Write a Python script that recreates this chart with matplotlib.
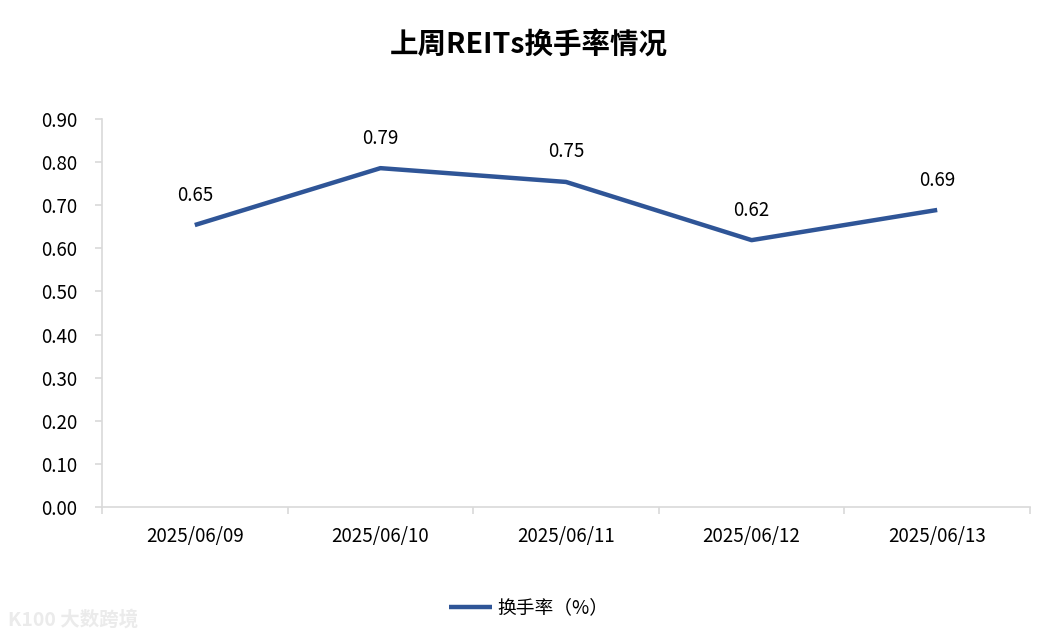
import numpy as np
import matplotlib
matplotlib.use("Agg")
import matplotlib.pyplot as plt

plt.rcParams['font.family'] = ['Noto Sans CJK SC', 'DejaVu Sans']

# ---------------- data ----------------
dates = ["2025/06/09", "2025/06/10", "2025/06/11", "2025/06/12", "2025/06/13"]
turnover = [0.654, 0.786, 0.754, 0.619, 0.689]
y_ticks = np.arange(0, 0.91, 0.1)

line_color = "#2F5597"
axis_color = "#D9D9D9"

fig = plt.figure(figsize=(10.57, 6.4), dpi=100)
ax = fig.add_axes([102 / 1057, 1 - 507 / 640, 928 / 1057, 388 / 640])

x = np.arange(len(dates))
ax.plot(x, turnover, color=line_color, linewidth=3.2, solid_capstyle='butt',
        solid_joinstyle='round', label="换手率（%）")

# data labels
for xi, v in zip(x, turnover):
    ax.annotate(f"{v:.2f}", (xi, v), xytext=(0, 14), textcoords='offset points',
                ha='center', va='bottom', fontsize=13.5, color='black')

ax.set_xlim(-0.5, len(dates) - 0.5)
ax.set_ylim(0, 0.9)
ax.set_yticks(y_ticks)
ax.set_yticklabels([f"{t:.2f}" for t in y_ticks], fontsize=13.5)
ax.set_xticks(x)
ax.set_xticklabels(dates, fontsize=13.5)
ax.set_xticks(np.arange(-0.5, len(dates), 1), minor=True)

ax.tick_params(axis='x', which='major', length=0, pad=14)
ax.tick_params(axis='x', which='minor', length=5, color=axis_color, width=1.2)
ax.tick_params(axis='y', length=5, color=axis_color, width=1.2, pad=13)

for s in ['top', 'right']:
    ax.spines[s].set_visible(False)
for s in ['left', 'bottom']:
    ax.spines[s].set_color(axis_color)
    ax.spines[s].set_linewidth(1.2)

fig.text(0.5, 1 - 45 / 640, "上周REITs换手率情况", ha='center', va='center',
         fontsize=20.5, fontweight='bold')

fig.legend(loc='center', bbox_to_anchor=(0.5, 1 - 608 / 640), frameon=False,
           fontsize=13.5, handlelength=2.3, handletextpad=0.3)

# watermark
fig.text(0.008, 1 - 620 / 640, "K100 大数跨境", fontsize=14, color='#EBEBEB',
         ha='left', va='center', fontweight='bold')

fig.savefig("out.png", dpi=100)
